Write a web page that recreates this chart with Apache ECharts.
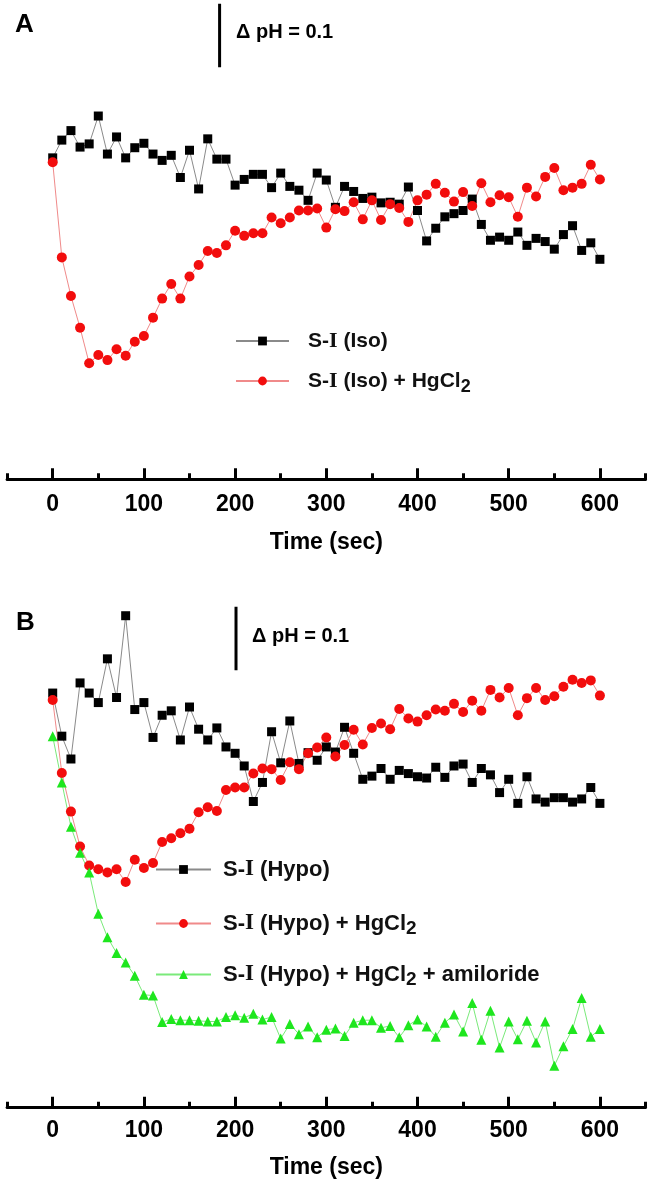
<!DOCTYPE html>
<html><head><meta charset="utf-8">
<script src="https://cdn.jsdelivr.net/npm/echarts@6/dist/echarts.min.js"></script>
<style>html,body{margin:0;padding:0;background:#fff}#c{width:654px;height:1185px}</style>
</head><body><div id="c"></div>
<script>
// ---- data (x: time in s, y: pH change, arbitrary baseline) ----
const time = [0,10,20,30,40,50,60,70,80,90,100,110,120,130,140,150,160,170,180,190,200,210,220,230,240,250,260,270,280,290,300,310,320,330,340,350,360,370,380,390,400,410,420,430,440,450,460,470,480,490,500,510,520,530,540,550,560,570,580,590,600];

const isoSI = [0.007,0.035,0.050,0.024,0.029,0.073,0.013,0.040,0.007,0.023,
0.030,0.013,0.003,0.011,-0.024,0.019,-0.042,0.037,0.005,0.005,
-0.036,-0.027,-0.019,-0.019,-0.040,-0.017,-0.038,-0.044,-0.060,-0.017,
-0.028,-0.071,-0.038,-0.046,-0.057,-0.055,-0.064,-0.063,-0.066,-0.039,
-0.076,-0.124,-0.104,-0.086,-0.081,-0.076,-0.058,-0.098,-0.123,-0.118,
-0.123,-0.110,-0.131,-0.120,-0.125,-0.137,-0.114,-0.100,-0.139,-0.127,
-0.153];

const isoHg = [0.000,-0.150,-0.211,-0.261,-0.317,-0.304,-0.312,-0.295,-0.305,-0.283,
-0.274,-0.245,-0.215,-0.192,-0.215,-0.180,-0.162,-0.140,-0.143,-0.131,
-0.108,-0.116,-0.112,-0.112,-0.087,-0.096,-0.087,-0.076,-0.076,-0.073,
-0.103,-0.074,-0.077,-0.063,-0.090,-0.060,-0.091,-0.066,-0.072,-0.094,
-0.060,-0.051,-0.034,-0.048,-0.062,-0.047,-0.069,-0.033,-0.063,-0.052,
-0.055,-0.086,-0.040,-0.054,-0.023,-0.009,-0.044,-0.040,-0.034,-0.004,
-0.027];

const hypoSI = [0.004,-0.064,-0.100,0.020,0.004,-0.011,0.058,-0.003,0.126,-0.022,
-0.011,-0.066,-0.031,-0.024,-0.070,-0.018,-0.053,-0.070,-0.051,-0.081,
-0.091,-0.111,-0.167,-0.137,-0.057,-0.106,-0.040,-0.107,-0.090,-0.102,
-0.081,-0.089,-0.050,-0.091,-0.132,-0.127,-0.115,-0.132,-0.118,-0.123,
-0.128,-0.130,-0.113,-0.129,-0.111,-0.108,-0.137,-0.115,-0.125,-0.153,
-0.132,-0.170,-0.128,-0.163,-0.168,-0.161,-0.161,-0.168,-0.163,-0.145,
-0.170];

const hypoHg = [-0.007,-0.122,-0.183,-0.238,-0.268,-0.274,-0.279,-0.274,-0.294,-0.259,
-0.272,-0.264,-0.231,-0.225,-0.217,-0.210,-0.184,-0.176,-0.182,-0.149,
-0.145,-0.145,-0.123,-0.115,-0.116,-0.133,-0.105,-0.116,-0.091,-0.082,
-0.066,-0.096,-0.078,-0.054,-0.077,-0.051,-0.044,-0.053,-0.021,-0.036,
-0.041,-0.031,-0.022,-0.024,-0.013,-0.026,-0.008,-0.024,0.009,-0.003,
0.012,-0.031,-0.004,0.012,-0.007,-0.001,0.014,0.025,0.020,0.024,
0.000];

const hypoAmil = [-0.064,-0.137,-0.207,-0.248,-0.279,-0.344,-0.381,-0.406,-0.421,-0.442,
-0.472,-0.473,-0.515,-0.510,-0.512,-0.512,-0.513,-0.514,-0.514,-0.507,
-0.504,-0.508,-0.502,-0.511,-0.507,-0.541,-0.518,-0.534,-0.522,-0.539,
-0.527,-0.525,-0.537,-0.516,-0.512,-0.512,-0.524,-0.521,-0.539,-0.520,
-0.511,-0.522,-0.538,-0.516,-0.503,-0.530,-0.485,-0.543,-0.497,-0.555,
-0.514,-0.542,-0.513,-0.547,-0.514,-0.584,-0.553,-0.526,-0.477,-0.538,
-0.526];

// scale bars (ΔpH = 0.1)
const scaleBarAx = [183, 183];
const scaleBarAy = [0.15, 0.25];
const scaleBarBx = [201, 201];
const scaleBarBy = [0.04, 0.14];

// x-axis ticks
const xTickLabels = [0, 100, 200, 300, 400, 500, 600];
const xMinorTicks = [-50, 50, 150, 250, 350, 450, 550, 650];

const nameIso = 'S-I (Iso)';
const nameIsoHg = 'S-I (Iso) + HgCl₂';
const nameHypo = 'S-I (Hypo)';
const nameHypoHg = 'S-I (Hypo) + HgCl₂';
const nameHypoAmil = 'S-I (Hypo) + HgCl₂ + amiloride';

// ---- chart ----
const SANS = "'Liberation Sans', Arial, Helvetica, sans-serif";
const pairs = (xs, ys) => xs.map((x, i) => [x, ys[i]]);

function legendFmt(name) {
  const rest = name.slice(3);
  const segs = rest.split('₂');
  return '{t|S-}{r|I}' + segs.map(s => s ? '{t|' + s + '}' : '').join('{s|2}');
}
function richFor(size) {
  return {
    t: {fontFamily: SANS, fontWeight: 'bold', fontSize: size, lineHeight: 30, color: '#111'},
    r: {fontFamily: "'Liberation Serif', 'Times New Roman', serif", fontWeight: 'bold', fontSize: size + 1, lineHeight: 30, color: '#111'},
    s: {fontFamily: SANS, fontWeight: 'bold', fontSize: size - 3, lineHeight: 16, verticalAlign: 'bottom', color: '#111'}
  };
}
function legendRow(name, left, top, w, gap, size) {
  return {
    data: [name], left: left, top: top, orient: 'horizontal', padding: 0,
    itemWidth: w, itemHeight: 11, selectedMode: false,
    formatter: legendFmt,
    textStyle: {padding: [0, 0, 0, gap], rich: richFor(size)}
  };
}

function xAxesFor(gridIndex, labelMargin, nameGap) {
  return [{
    gridIndex, type: 'value', min: -50, max: 650, position: 'bottom',
    axisLine: {show: true, onZero: false, lineStyle: {color: '#000', width: 3}},
    axisTick: {show: true, inside: true, length: 11, customValues: xTickLabels, lineStyle: {color: '#000', width: 3}},
    axisLabel: {show: true, customValues: xTickLabels, margin: labelMargin, fontSize: 23, fontWeight: 'bold', fontFamily: SANS, color: '#000'},
    splitLine: {show: false},
    name: 'Time (sec)', nameLocation: 'middle', nameGap: nameGap,
    nameTextStyle: {fontSize: 23, fontWeight: 'bold', fontFamily: SANS, color: '#000'}
  }, {
    gridIndex, type: 'value', min: -50, max: 650, position: 'bottom',
    axisLine: {show: false, onZero: false},
    axisTick: {show: true, inside: true, length: 6, customValues: xMinorTicks, lineStyle: {color: '#000', width: 3}},
    axisLabel: {show: false},
    splitLine: {show: false}
  }];
}

function dataSeries(name, xi, yi, ys, symbol, size, color, lineColor) {
  return {
    name, type: 'line', xAxisIndex: xi, yAxisIndex: yi,
    data: pairs(time, ys), symbol, symbolSize: size, showAllSymbol: true,
    itemStyle: {color: color, opacity: 1},
    lineStyle: {color: lineColor, width: 1},
    emphasis: {disabled: true}, animation: false
  };
}
function barSeries(xi, yi, xs, ys) {
  return {
    type: 'line', xAxisIndex: xi, yAxisIndex: yi, data: pairs(xs, ys),
    symbol: 'none', lineStyle: {color: '#000', width: 3}, silent: true, animation: false
  };
}

const BLACK = '#000', BLACKLINE = '#8a8a8a';
const RED = '#f20d0d', REDLINE = '#f08a8a';
const GREEN = '#1ee61e', GREENLINE = '#7aea7a';

const option = {
  backgroundColor: '#fff',
  animation: false,
  title: [
    {text: 'A', left: 15, top: 12, padding: 0, textStyle: {fontSize: 26, fontWeight: 'bold', fontFamily: SANS, color: '#000'}},
    {text: 'B', left: 16, top: 610, padding: 0, textStyle: {fontSize: 26, fontWeight: 'bold', fontFamily: SANS, color: '#000'}}
  ],
  grid: [
    {left: 7.1, width: 638.4, top: 3.8, height: 475.5},
    {left: 7.1, width: 638.4, top: 600.5, height: 507.2}
  ],
  xAxis: [...xAxesFor(0, 14, 52), ...xAxesFor(1, 11, 48)],
  yAxis: [
    {gridIndex: 0, type: 'value', min: -0.5, max: 0.25, show: false},
    {gridIndex: 1, type: 'value', min: -0.65, max: 0.15, show: false}
  ],
  legend: [
    legendRow(nameIso, 235, 330, 53, 14, 21),
    legendRow(nameIsoHg, 235, 370, 53, 14, 21),
    legendRow(nameHypo, 155, 858, 55, 7, 22),
    legendRow(nameHypoHg, 155, 912, 55, 7, 22),
    legendRow(nameHypoAmil, 155, 963, 55, 7, 22)
  ],
  graphic: [
    {type: 'text', left: 236, top: 22, style: {text: 'Δ pH = 0.1', fontSize: 20, fontWeight: 'bold', fontFamily: SANS, fill: '#000'}},
    {type: 'text', left: 252, top: 626, style: {text: 'Δ pH = 0.1', fontSize: 20, fontWeight: 'bold', fontFamily: SANS, fill: '#000'}}
  ],
  series: [
    barSeries(0, 0, scaleBarAx, scaleBarAy),
    dataSeries(nameIso, 0, 0, isoSI, 'rect', 9, BLACK, BLACKLINE),
    dataSeries(nameIsoHg, 0, 0, isoHg, 'circle', 10, RED, REDLINE),
    barSeries(2, 1, scaleBarBx, scaleBarBy),
    dataSeries(nameHypo, 2, 1, hypoSI, 'rect', 9, BLACK, BLACKLINE),
    dataSeries(nameHypoHg, 2, 1, hypoHg, 'circle', 10, RED, REDLINE),
    dataSeries(nameHypoAmil, 2, 1, hypoAmil, 'triangle', 10, GREEN, GREENLINE)
  ]
};

const chart = echarts.init(document.getElementById('c'), null, {renderer: 'canvas'});
chart.setOption(option);
</script>
</body></html>
